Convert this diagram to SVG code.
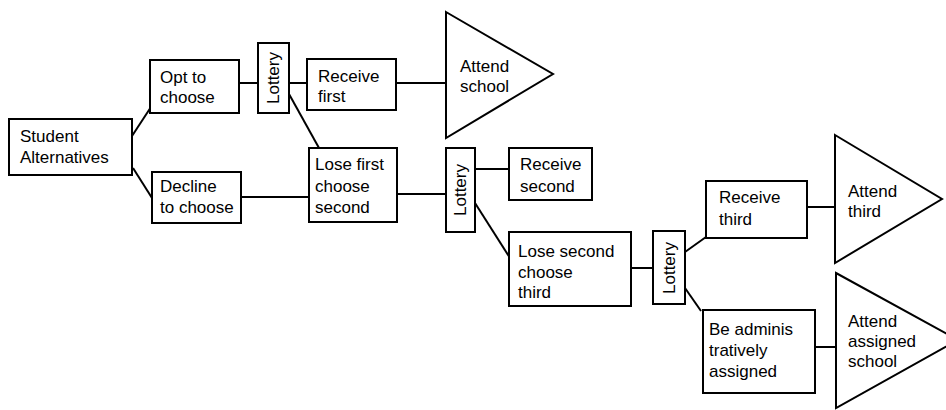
<svg xmlns="http://www.w3.org/2000/svg" width="946" height="410" viewBox="0 0 946 410">
  <style>
    .box { fill: #fff; stroke: #000; stroke-width: 2; }
    .tri { fill: #fff; stroke: #000; stroke-width: 2; stroke-linejoin: miter; }
    .wire { stroke: #000; stroke-width: 2; fill: none; }
    text { font-family: "Liberation Sans", Arial, sans-serif; font-size: 17px; fill: #000; }
    .vert { text-anchor: middle; dominant-baseline: central; }
  </style>
  <rect width="946" height="410" fill="#fff"/>

  <!-- connectors -->
  <g id="connectors">
    <line class="wire" x1="132" y1="136" x2="151" y2="107"/>
    <line class="wire" x1="133" y1="168" x2="152" y2="198"/>
    <line class="wire" x1="239" y1="83" x2="258" y2="83"/>
    <line class="wire" x1="241" y1="197" x2="309" y2="197"/>
    <line class="wire" x1="289" y1="83" x2="307" y2="83"/>
    <line class="wire" x1="289" y1="94" x2="319" y2="148"/>
    <line class="wire" x1="396" y1="83" x2="446" y2="83"/>
    <line class="wire" x1="397" y1="194" x2="446" y2="194"/>
    <line class="wire" x1="475" y1="169" x2="509" y2="169"/>
    <line class="wire" x1="475" y1="203" x2="510" y2="258"/>
    <line class="wire" x1="631" y1="268" x2="653" y2="268"/>
    <line class="wire" x1="685" y1="252" x2="706" y2="237"/>
    <line class="wire" x1="685" y1="288" x2="701" y2="311"/>
    <line class="wire" x1="807" y1="207" x2="835" y2="207"/>
    <line class="wire" x1="815" y1="347" x2="836" y2="347"/>
  </g>

  <g id="student-alternatives">
    <rect class="box" x="9" y="119" width="123" height="56"/>
    <text x="20" y="142">Student</text>
    <text x="20" y="163">Alternatives</text>
  </g>

  <g id="opt-to-choose">
    <rect class="box" x="150" y="60" width="89" height="53"/>
    <text x="160" y="83">Opt to</text>
    <text x="160" y="103">choose</text>
  </g>

  <g id="decline-to-choose">
    <rect class="box" x="152" y="172" width="89" height="51"/>
    <text x="160" y="192">Decline</text>
    <text x="160" y="213">to choose</text>
  </g>

  <g id="lottery-1">
    <rect class="box" x="258" y="43" width="31" height="70"/>
    <text class="vert" transform="translate(273.5 78) rotate(-90)">Lottery</text>
  </g>

  <g id="receive-first">
    <rect class="box" x="307" y="59" width="89" height="51"/>
    <text x="318" y="82">Receive</text>
    <text x="318" y="102">first</text>
  </g>

  <g id="attend-school">
    <polygon class="tri" points="446,12 553,74 446,138"/>
    <text x="460" y="72">Attend</text>
    <text x="460" y="92">school</text>
  </g>

  <g id="lose-first">
    <rect class="box" x="309" y="148" width="88" height="74"/>
    <text x="315" y="170">Lose first</text>
    <text x="315" y="192">choose</text>
    <text x="315" y="213">second</text>
  </g>

  <g id="lottery-2">
    <rect class="box" x="446" y="148" width="29" height="84"/>
    <text class="vert" transform="translate(460.5 190) rotate(-90)">Lottery</text>
  </g>

  <g id="receive-second">
    <rect class="box" x="509" y="148" width="83" height="52"/>
    <text x="520" y="170">Receive</text>
    <text x="520" y="192">second</text>
  </g>

  <g id="lose-second">
    <rect class="box" x="509" y="232" width="122" height="74"/>
    <text x="518" y="257">Lose second</text>
    <text x="518" y="278">choose</text>
    <text x="518" y="298">third</text>
  </g>

  <g id="lottery-3">
    <rect class="box" x="653" y="231" width="32" height="73"/>
    <text class="vert" transform="translate(669 268) rotate(-90)">Lottery</text>
  </g>

  <g id="receive-third">
    <rect class="box" x="706" y="181" width="101" height="57"/>
    <text x="719" y="203">Receive</text>
    <text x="719" y="225">third</text>
  </g>

  <g id="attend-third">
    <polygon class="tri" points="835,135 942,199 835,263"/>
    <text x="848" y="197">Attend</text>
    <text x="848" y="217">third</text>
  </g>

  <g id="administratively-assigned">
    <rect class="box" x="703" y="310" width="112" height="83"/>
    <text x="709" y="335">Be adminis</text>
    <text x="709" y="356">tratively</text>
    <text x="709" y="377">assigned</text>
  </g>

  <g id="attend-assigned">
    <polygon class="tri" points="836,273 958,340 836,408"/>
    <text x="848" y="327">Attend</text>
    <text x="848" y="347">assigned</text>
    <text x="848" y="367">school</text>
  </g>
</svg>
